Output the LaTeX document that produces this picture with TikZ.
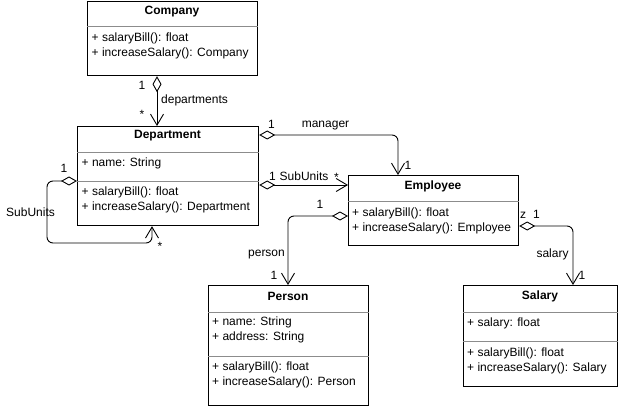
\documentclass[tikz,border=0pt]{standalone}
\usepackage{fontspec}
\setmainfont{Liberation Sans}
\usetikzlibrary{arrows.meta,calc}
\begin{document}
\begin{tikzpicture}[x=1pt,y=-1pt,
  cls/.style={draw, line width=1.2pt, anchor=north west, inner sep=0pt, fill=white},
  divider/.style={draw=black!45, line width=0.8pt},
  ttl/.style={font=\bfseries\fontsize{12}{15}\selectfont, inner sep=0pt},
  mem/.style={font=\fontsize{12}{15}\selectfont, inner sep=0pt, anchor=north west, align=left},
  lbl/.style={font=\fontsize{12}{14}\selectfont, inner sep=0pt},
  agg/.style={draw, line width=0.9pt, rounded corners=6pt,
    {Diamond[open,length=16pt,width=9pt,fill=white]}-{Straight Barb[length=11pt,width=13pt]}}
]
\useasboundingbox[fill=white] (0,0) rectangle (624,409);

% boxes
\node[cls, minimum width=170pt, minimum height=74pt] (company) at (87,1) {};
\node[cls, minimum width=181pt, minimum height=99pt] (dept) at (77,126) {};
\node[cls, minimum width=170pt, minimum height=70pt] (emp) at (348,175) {};
\node[cls, minimum width=160pt, minimum height=120pt] (person) at (208,285) {};
\node[cls, minimum width=154pt, minimum height=101pt] (salary) at (463,285) {};

% dividers
\draw[divider] ([yshift=-25pt]company.north west) -- ([yshift=-25pt]company.north east);
\draw[divider] ([yshift=-26pt]dept.north west) -- ([yshift=-26pt]dept.north east);
\draw[divider] ([yshift=-55pt]dept.north west) -- ([yshift=-55pt]dept.north east);
\draw[divider] ([yshift=-26pt]emp.north west) -- ([yshift=-26pt]emp.north east);
\draw[divider] ([yshift=-27pt]person.north west) -- ([yshift=-27pt]person.north east);
\draw[divider] ([yshift=-71pt]person.north west) -- ([yshift=-71pt]person.north east);
\draw[divider] ([yshift=-27pt]salary.north west) -- ([yshift=-27pt]salary.north east);
\draw[divider] ([yshift=-56pt]salary.north west) -- ([yshift=-56pt]salary.north east);

% titles
\node[ttl] (companyT) at (172,12) {Company};
\node[ttl] (deptT) at (167.5,136) {Department};
\node[ttl] (empT) at (433,186) {Employee};
\node[ttl] (personT) at (288,296) {Person};
\node[ttl] (salaryT) at (540,296) {Salary};

% members
\node[mem] (companyM) at (91.5,33) {+ salaryBill(): float\\+ increaseSalary(): Company};
\node[mem] (deptA) at (81.5,158) {+ name: String};
\node[mem] (deptM) at (81.5,186.5) {+ salaryBill(): float\\+ increaseSalary(): Department};
\node[mem] (empM) at (352,208) {+ salaryBill(): float\\+ increaseSalary(): Employee};
\node[mem] (personA) at (212,316.5) {+ name: String\\+ address: String};
\node[mem] (personM) at (212,362) {+ salaryBill(): float\\+ increaseSalary(): Person};
\node[mem] (salaryA) at (467,318) {+ salary: float};
\node[mem] (salaryM) at (467,348) {+ salaryBill(): float\\+ increaseSalary(): Salary};

% connectors
\coordinate (cdS) at ([xshift=70pt]company.south west);
\draw[agg] (cdS) -- (cdS |- dept.north);

\draw[agg] ([yshift=-9pt]dept.north east) -| ([xshift=50pt]emp.north west);

\coordinate (suE) at ([yshift=-10pt]emp.north west);
\draw[agg] (suE -| dept.east) -- (suE);

\draw[agg] ([yshift=-55pt]dept.north west) -- ++(-30,0) -- ++(0,62) -| ([xshift=75pt]dept.south west);

\draw[agg] ([yshift=-41pt]emp.north west) -| ([xshift=80pt]person.north west);

\draw[agg] ([yshift=-51pt]emp.north east) -| ([xshift=110pt]salary.north west);

% labels
\node[lbl] (l1) at (142,85) {1};
\node[lbl, anchor=west] (l2) at (161,100) {departments};
\node[lbl] (l3) at (142,114) {*};
\node[lbl] (l4) at (271.5,124) {1};
\node[lbl] (l5) at (325.5,126) {manager};
\node[lbl] (l6) at (408,165) {1};
\node[lbl] (l7) at (272.5,176.5) {1};
\node[lbl] (l8) at (304,176) {SubUnits};
\node[lbl] (l9) at (336.5,177) {*};
\node[lbl] (l10) at (64,168.5) {1};
\node[lbl] (l11) at (30.5,212.5) {SubUnits};
\node[lbl] (l12) at (160,246) {*};
\node[lbl] (l13) at (320,204.5) {1};
\node[lbl] (l14) at (266.5,255) {person};
\node[lbl] (l15) at (274,275) {1};
\node[lbl] (l16) at (523,215) {z};
\node[lbl] (l17) at (536.5,214) {1};
\node[lbl] (l18) at (552.5,254) {salary};
\node[lbl] (l19) at (582,275) {1};
\end{tikzpicture}
\end{document}
